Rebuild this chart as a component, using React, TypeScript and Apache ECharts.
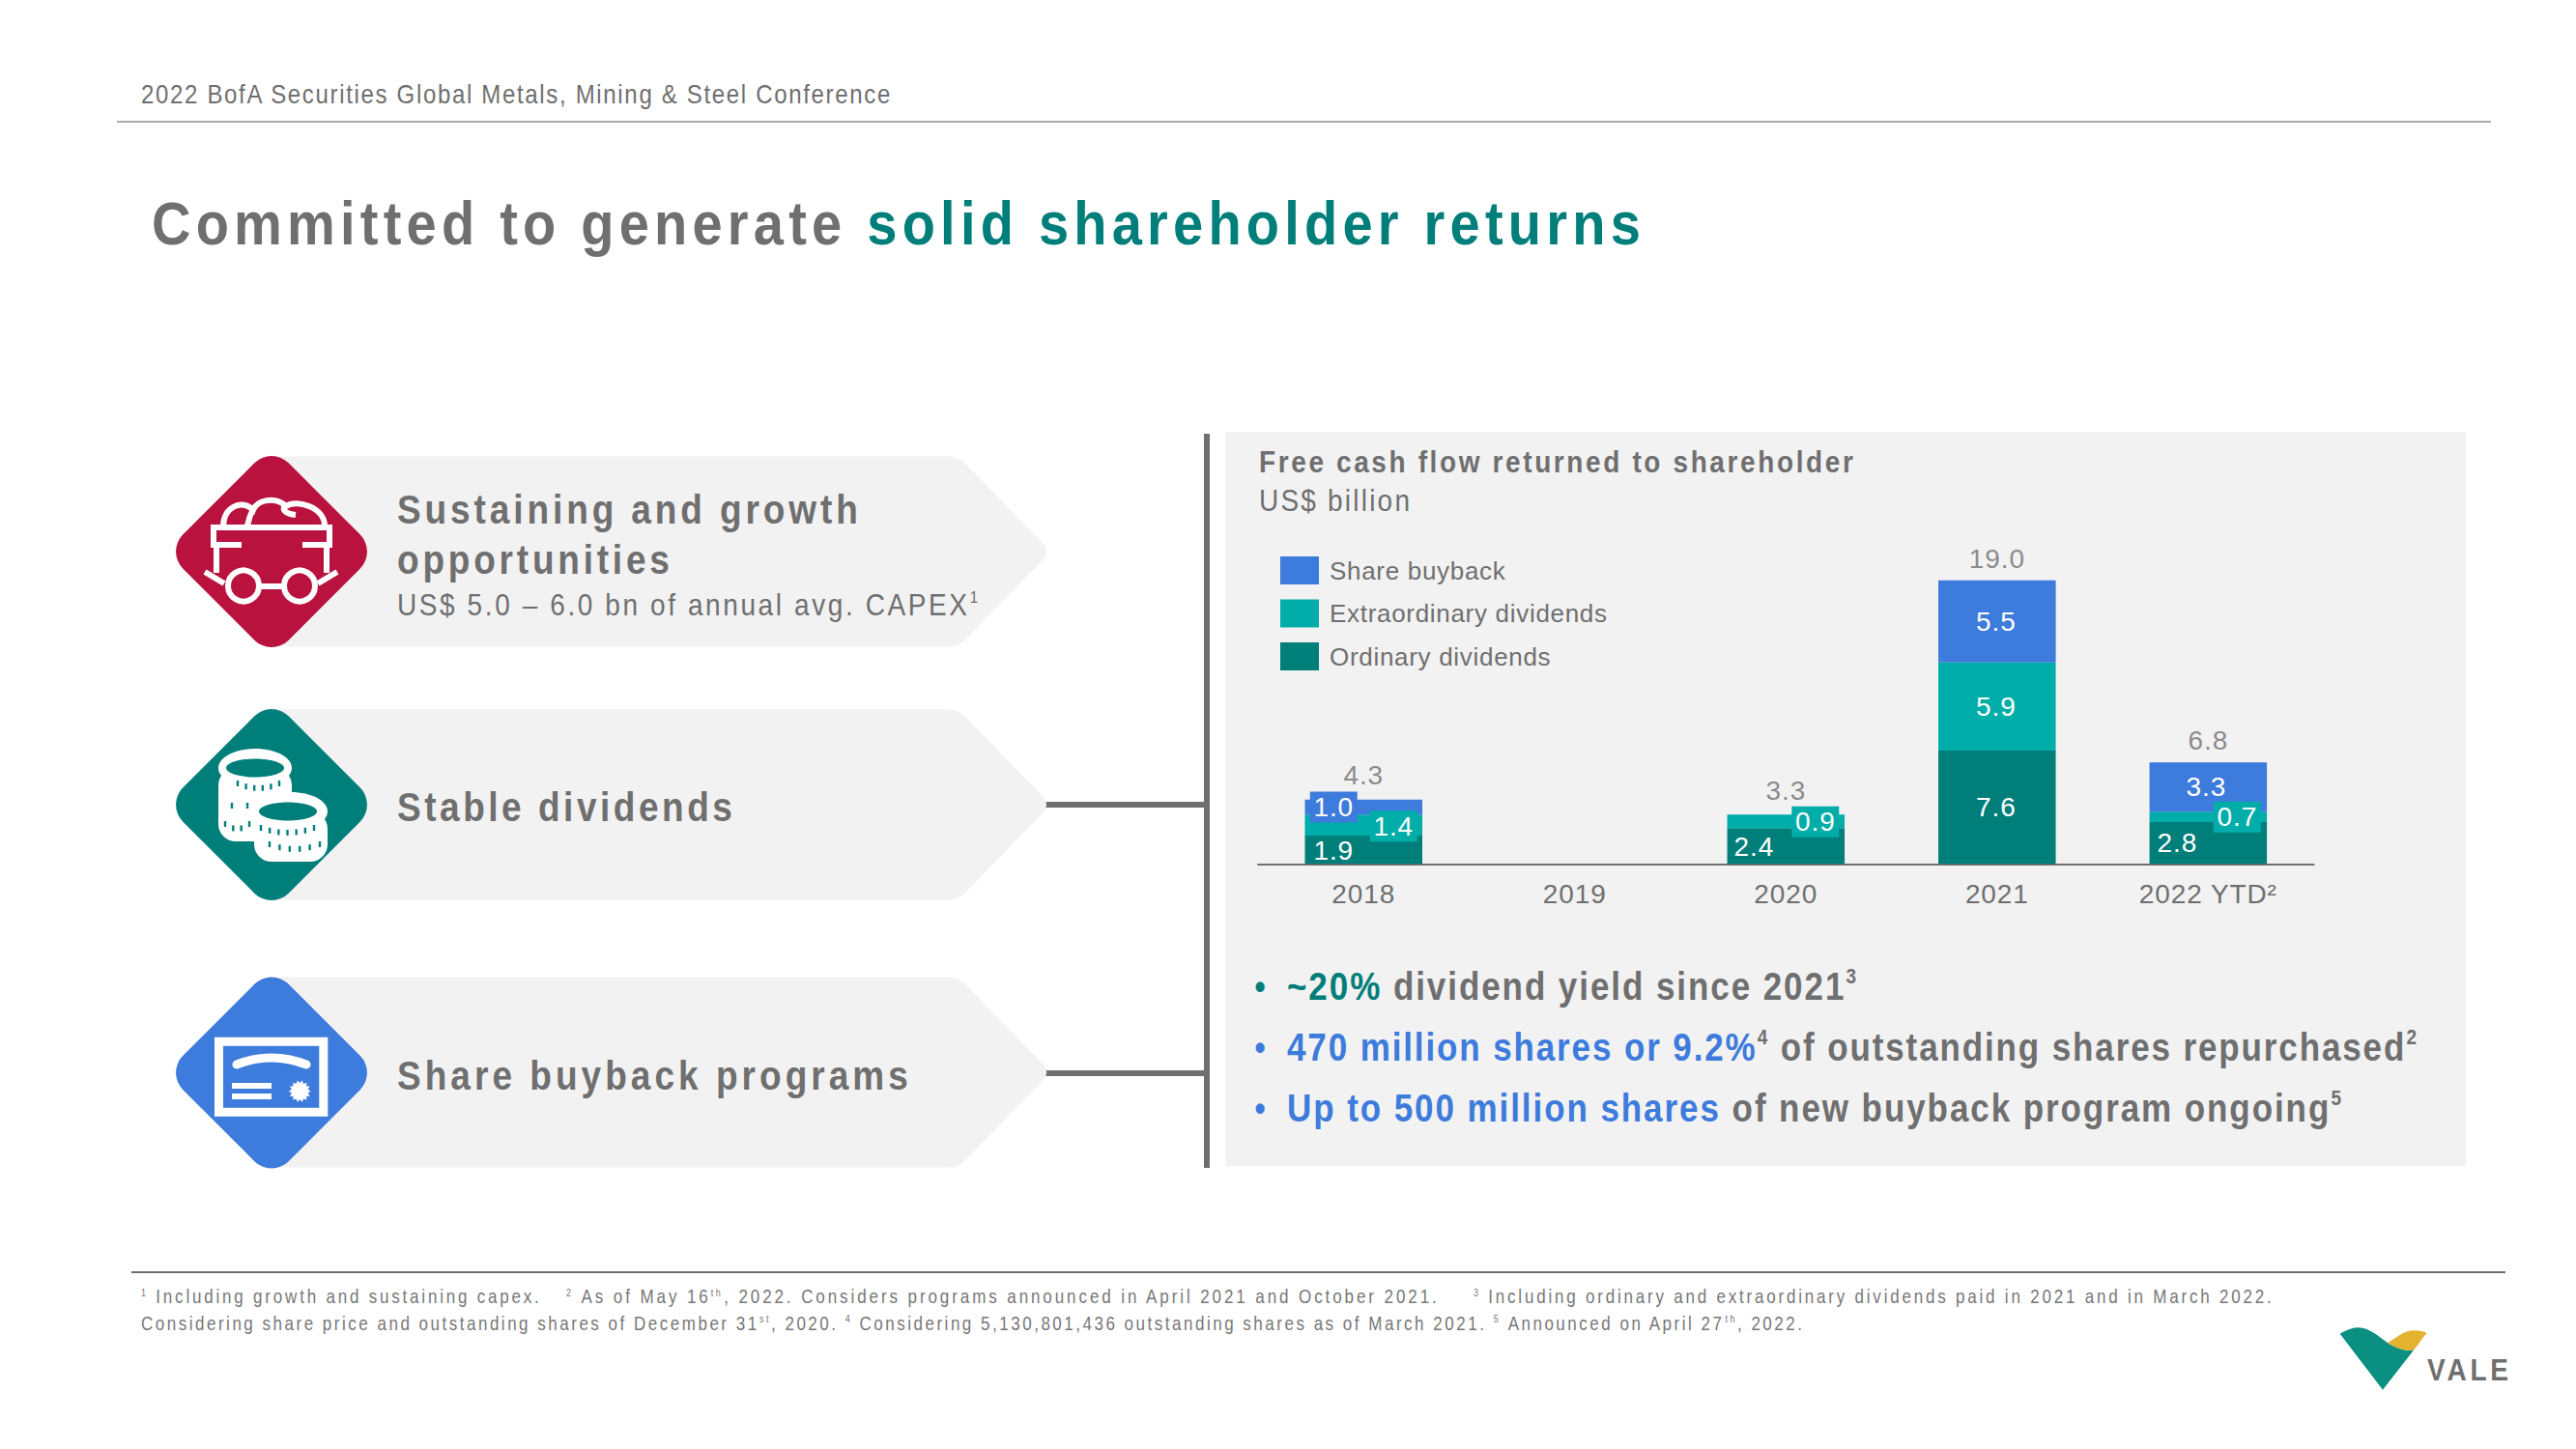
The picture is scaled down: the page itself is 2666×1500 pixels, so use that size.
import React, { useEffect, useRef } from "react";
import * as echarts from "echarts";

const categories = ["2018", "2019", "2020", "2021", "2022 YTD²"];
const ordinaryDividends = [1.9, null, 2.4, 7.6, 2.8];
const extraordinaryDividends = [1.4, null, 0.9, 5.9, 0.7];
const shareBuyback = [1.0, null, null, 5.5, 3.3];
const totals = [4.3, null, 3.3, 19.0, 6.8];
const legendNames = ["Share buyback", "Extraordinary dividends", "Ordinary dividends"];

const GREY = "#6f6f6f";
const TEAL = "#007e7a";
const AQUA = "#00ada8";
const BLUE = "#3d7bdc";
const RED = "#b9123f";
const PANEL = "#f2f2f2";
const FF = '"Liberation Sans"';
const TALL = 1.14;

// label placement per bar segment: [offsetX, offsetY, boxed]
const ordinaryLabels: any[] = [[-31, 1, false], null, [-33, 1, false], [-1, 0, false], [-32, 0, false]];
const extraLabels: any[] = [[31, 1, true], null, [30.5, 0.5, true], [-1, 0, false], [30, 0, true]];
const buybackLabels: any[] = [[-31, 0, true], null, null, [-1, 0, false], [-2, 0, false]];
const totalLabelLift = [3, 0, 3, 0, 1];

type Run = { t: string; c?: string; b?: boolean; sup?: boolean };

const spacing = new Map<string, number>();
const ctx = document.createElement("canvas").getContext("2d")!;
const fontOf = (size: number, bold?: boolean) => `${bold ? "bold " : ""}${size}px ${FF}`;
const measure = (t: string, size: number, bold?: boolean) => {
  ctx.font = fontOf(size, bold);
  return ctx.measureText(t).width;
};

function textEl(t: string, x: number, y: number, size: number, fill: string, bold?: boolean, align = "left") {
  return {
    type: "text",
    x,
    y,
    scaleY: TALL,
    silent: true,
    style: {
      text: t,
      font: fontOf(size, bold),
      fill,
      align,
      textAlign: align,
      verticalAlign: "middle",
      textVerticalAlign: "middle",
    },
  };
}

// lays out a run of differently styled pieces so that the line ends at endX
function line(x: number, endX: number, y: number, size: number, runs: Run[], defColor: string, defBold = false) {
  const rs = runs.map((r) => ({ ...r, sz: r.sup ? Math.round(size * 0.55) : size, bb: r.b ?? defBold }));
  let nat = 0;
  let n = 0;
  rs.forEach((r) => {
    nat += measure(r.t, r.sz, r.bb);
    n += r.t.length;
  });
  const sp = (endX - x - nat) / Math.max(1, n - 1);
  let cx = x;
  const out: any[] = [];
  rs.forEach((r) => {
    const trimmedStart = r.t.replace(/^\s+/, "");
    const lead = r.t.slice(0, r.t.length - trimmedStart.length);
    const leadW = lead ? measure(lead, r.sz, r.bb) + lead.length * sp : 0;
    const clean = trimmedStart.trimEnd();
    spacing.set(clean, sp);
    out.push(textEl(clean, cx + leadW, r.sup ? y - size * 0.3 : y, r.sz, r.c ?? defColor, r.bb));
    cx += measure(r.t, r.sz, r.bb) + r.t.length * sp;
  });
  return out;
}

const ARROW =
  "M281,-98.5 L982,-98.5 Q992,-98.5 999,-91 L1076,-12 Q1090,0 1076,12 L999,91 Q992,98.5 982,98.5 L281,98.5 Z";
const CART =
  "M250,564 H221 V546 H341 V564 H313 M224,564 V593 M338,564 V593 M212,592 L232,604 M349,592 L329,604 " +
  "M268,607 H294 M231,544 C232,525 250,516 262,528 C266,518 284,513 296,524 C308,516 336,526 336,544 " +
  "M262,528 C258,533 258,538 256,544 M296,524 C290,527 296,532 306,533";
const CERT_ARC = "M245,1102 Q281,1088 317,1102";
const LOGO_V =
  "M2421.7,1380.7 C2430,1376 2436,1374.3 2441,1374.3 C2452,1374.3 2462,1384 2471,1390 C2480,1396 2490,1399 2498.3,1397.3 L2466,1438.7 Z";
const LOGO_Y =
  "M2471,1390 C2478,1387 2486,1378 2497,1377.3 C2503,1377 2508,1378 2511.7,1380 C2506,1386 2503,1392 2498.3,1397.3 C2490,1399 2480,1396 2471,1390 Z";

function registerShapes() {
  const g: any = echarts.graphic;
  g.registerShape("vArrow", g.extendPath(ARROW, {}));
  g.registerShape("vCart", g.extendPath(CART, {}));
  g.registerShape("vCertArc", g.extendPath(CERT_ARC, {}));
  g.registerShape("vLogoV", g.extendPath(LOGO_V, {}));
  g.registerShape("vLogoY", g.extendPath(LOGO_Y, {}));
}

function diamond(cy: number, fill: string) {
  const s = 154.6;
  return {
    type: "rect",
    x: 281,
    y: cy,
    rotation: Math.PI / 4,
    silent: true,
    shape: { x: -s / 2, y: -s / 2, width: s, height: s, r: 25 },
    style: { fill },
  };
}

function coinIcon() {
  const w = "#ffffff";
  const els: any[] = [];
  const stack = (cx: number, top: number, bottom: number, inX: number) => {
    els.push({ type: "rect", silent: true, shape: { x: cx - 38, y: top, width: 76, height: bottom - top, r: 18 }, style: { fill: w } });
    els.push({ type: "ellipse", silent: true, shape: { cx, cy: top, rx: 38, ry: 20 }, style: { fill: w } });
    els.push({ type: "ellipse", silent: true, shape: { cx: inX, cy: top, rx: 30, ry: 9.5 }, style: { fill: TEAL } });
  };
  stack(264, 795, 871, 264);
  stack(301, 840, 892, 298);
  const rows = [
    [246, 289, 811, 6],
    [240, 256, 834, 2],
    [233, 258, 853, 4],
    [270, 325, 857, 7],
    [279, 331, 874, 6],
  ];
  rows.forEach(([x0, x1, y, c]) => {
    const mid = (x0 + x1) / 2;
    const half = Math.max(1, (x1 - x0) / 2);
    for (let i = 0; i < c; i++) {
      const x = x0 + ((x1 - x0) * i) / Math.max(1, c - 1);
      const t = (x - mid) / half;
      const ty = y + 5 * (1 - t * t);
      els.push({ type: "rect", silent: true, shape: { x: x - 1.2, y: ty - 3, width: 2.4, height: 6 }, style: { fill: TEAL } });
    }
  });
  return els;
}

function certIcon() {
  const w = "#ffffff";
  const star: number[][] = [];
  for (let i = 0; i < 28; i++) {
    const r = i % 2 ? 8.6 : 11.4;
    const a = (i * Math.PI) / 14;
    star.push([310.3 + r * Math.cos(a), 1129.7 + r * Math.sin(a)]);
  }
  return [
    { type: "rect", silent: true, shape: { x: 226.5, y: 1078.2, width: 108.3, height: 73 }, style: { fill: "none", stroke: w, lineWidth: 9 } },
    { type: "vCertArc", silent: true, style: { fill: "none", stroke: w, lineWidth: 9, lineCap: "round" } },
    { type: "rect", silent: true, shape: { x: 240, y: 1121, width: 41, height: 6 }, style: { fill: w } },
    { type: "rect", silent: true, shape: { x: 240, y: 1132, width: 41, height: 6 }, style: { fill: w } },
    { type: "polygon", silent: true, shape: { points: star }, style: { fill: w } },
  ];
}

function buildGraphic() {
  const els: any[] = [];
  const hline = (x1: number, x2: number, y: number, stroke: string, lw: number) => ({
    type: "line",
    silent: true,
    shape: { x1, y1: y, x2, y2: y },
    style: { stroke, lineWidth: lw },
  });
  els.push({ type: "rect", silent: true, z: -1, shape: { x: 1268.5, y: 447, width: 1283.5, height: 760 }, style: { fill: PANEL } });
  els.push({ type: "rect", silent: true, z: -1, shape: { x: 1246, y: 449, width: 6, height: 760 }, style: { fill: GREY } });
  els.push(hline(121, 2578, 126, "#8c8c8c", 1.5));
  els.push(hline(136, 2593, 1317, GREY, 2));
  els.push({ type: "rect", silent: true, shape: { x: 1082, y: 830, width: 165, height: 6 }, style: { fill: GREY } });
  els.push({ type: "rect", silent: true, shape: { x: 1082, y: 1108, width: 165, height: 6 }, style: { fill: GREY } });

  [571, 833, 1110].forEach((y) => els.push({ type: "vArrow", silent: true, x: 0, y, style: { fill: PANEL } }));
  els.push(diamond(571, RED), diamond(833, TEAL), diamond(1110.5, BLUE));

  const white = { fill: "none", stroke: "#ffffff", lineWidth: 6 };
  els.push({ type: "vCart", silent: true, style: white });
  els.push({ type: "circle", silent: true, shape: { cx: 252, cy: 606.5, r: 16 }, style: white });
  els.push({ type: "circle", silent: true, shape: { cx: 310, cy: 606.5, r: 16 }, style: white });
  els.push(...coinIcon(), ...certIcon());

  els.push(...line(146, 923, 97, 24, [{ t: "2022 BofA Securities Global Metals, Mining & Steel Conference" }], GREY));
  els.push(
    ...line(157, 1698, 231, 56, [{ t: "Committed to generate " }, { t: "solid shareholder returns", c: TEAL }], GREY, true)
  );
  els.push(...line(411, 888, 527, 37, [{ t: "Sustaining and growth" }], GREY, true));
  els.push(...line(411, 693, 579, 37, [{ t: "opportunities" }], GREY, true));
  els.push(
    ...line(411, 1012, 626, 28, [{ t: "US$ 5.0 – 6.0 bn of annual avg. CAPEX" }, { t: "1", sup: true }], GREY)
  );
  els.push(...line(411, 758, 835, 37, [{ t: "Stable dividends" }], GREY, true));
  els.push(...line(411, 940, 1113, 37, [{ t: "Share buyback programs" }], GREY, true));

  els.push(...line(1303, 1918, 478, 28, [{ t: "Free cash flow returned to shareholder" }], GREY, true));
  els.push(...line(1303, 1459, 518, 28, [{ t: "US$ billion" }], GREY));

  els.push(textEl("•", 1304, 1021, 32, TEAL, true, "center"));
  els.push(textEl("•", 1304, 1084, 32, BLUE, true, "center"));
  els.push(textEl("•", 1304, 1147, 32, BLUE, true, "center"));
  els.push(
    ...line(1332, 1921, 1021, 35, [{ t: "~20%", c: TEAL }, { t: " dividend yield since 2021" }, { t: "3", sup: true }], GREY, true)
  );
  els.push(
    ...line(
      1332,
      2501,
      1084,
      35,
      [{ t: "470 million shares or 9.2%", c: BLUE }, { t: "4", sup: true }, { t: " of outstanding shares repurchased" }, { t: "2", sup: true }],
      GREY,
      true
    )
  );
  els.push(
    ...line(
      1332,
      2423,
      1147,
      35,
      [{ t: "Up to 500 million shares", c: BLUE }, { t: " of new buyback program ongoing" }, { t: "5", sup: true }],
      GREY,
      true
    )
  );

  const FN = "#777777";
  els.push(...line(146, 558, 1343, 17, [{ t: "1", sup: true }, { t: " Including growth and sustaining capex." }], FN));
  els.push(
    ...line(
      586,
      1488,
      1343,
      17,
      [{ t: "2", sup: true }, { t: " As of May 16" }, { t: "th", sup: true }, { t: ", 2022. Considers programs announced in April 2021 and October 2021." }],
      FN
    )
  );
  els.push(
    ...line(1525, 2351, 1343, 17, [{ t: "3", sup: true }, { t: " Including ordinary and extraordinary dividends paid in 2021 and in March 2022." }], FN)
  );
  els.push(
    ...line(
      146,
      1865,
      1370.5,
      17,
      [
        { t: "Considering share price and outstanding shares of December 31" },
        { t: "st", sup: true },
        { t: ", 2020. " },
        { t: "4", sup: true },
        { t: " Considering 5,130,801,436 outstanding shares as of March 2021. " },
        { t: "5", sup: true },
        { t: " Announced on April 27" },
        { t: "th", sup: true },
        { t: ", 2022." },
      ],
      FN
    )
  );

  els.push({ type: "vLogoV", silent: true, style: { fill: "#0b8f80" } });
  els.push({ type: "vLogoY", silent: true, style: { fill: "#e3b32f" } });
  els.push(...line(2512, 2596, 1418, 28, [{ t: "VALE" }], GREY, true));
  return els;
}

const LEGEND_SIZE = 26;
const AXIS_SIZE = 28;

function segmentData(values: (number | null)[], placing: any[], fill: string) {
  return values.map((v, i) => {
    const p = placing[i];
    if (v == null || !p) return { value: v };
    return {
      value: v,
      label: {
        show: true,
        position: "inside",
        offset: [p[0], p[1]],
        color: "#ffffff",
        fontSize: AXIS_SIZE,
        fontFamily: FF,
        backgroundColor: p[2] ? fill : "transparent",
        padding: p[2] ? [2, 5] : 0,
        formatter: (x: any) => Number(x.value).toFixed(1),
      },
    };
  });
}

export default function App() {
  const ref = useRef<HTMLDivElement>(null);
  useEffect(() => {
    registerShapes();
    const chart = echarts.init(ref.current!, undefined, { renderer: "svg" });
    spacing.clear();
    const graphicEls = buildGraphic();

    const legendRef = "Extraordinary dividends";
    const legendSp = (1663 - 1376 - measure(legendRef, LEGEND_SIZE)) / (legendRef.length - 1);
    legendNames.forEach((n) => spacing.set(n, legendSp));

    const barBase = { type: "bar", stack: "fcf", barWidth: 121.5, silent: true };
    chart.setOption({
      animation: false,
      backgroundColor: "#ffffff",
      graphic: { elements: graphicEls },
      legend: {
        left: 1320,
        top: 571,
        orient: "vertical",
        icon: "rect",
        itemWidth: 40,
        itemHeight: 29,
        itemGap: 15.5,
        selectedMode: false,
        data: legendNames,
        textStyle: { color: GREY, fontSize: LEGEND_SIZE, fontFamily: FF, padding: [0, 0, 0, 6] },
      },
      grid: { left: 1302, top: 585.3, width: 1092.6, height: 309 },
      xAxis: {
        type: "category",
        data: categories,
        axisTick: { show: false },
        axisLine: { lineStyle: { color: GREY, width: 2 } },
        axisLabel: { color: GREY, fontSize: AXIS_SIZE, fontFamily: FF, margin: 17 },
      },
      yAxis: { type: "value", min: 0, max: 20, show: false, splitLine: { show: false } },
      series: [
        {
          ...barBase,
          name: "Ordinary dividends",
          itemStyle: { color: TEAL },
          data: segmentData(ordinaryDividends, ordinaryLabels, TEAL),
        },
        {
          ...barBase,
          name: "Extraordinary dividends",
          itemStyle: { color: AQUA },
          data: segmentData(extraordinaryDividends, extraLabels, AQUA),
        },
        {
          ...barBase,
          name: "Share buyback",
          itemStyle: { color: BLUE },
          data: segmentData(shareBuyback, buybackLabels, BLUE),
        },
        {
          type: "scatter",
          name: "Total",
          silent: true,
          symbolSize: 0,
          itemStyle: { color: "transparent" },
          data: totals.map((v, i) => ({ value: v, label: { distance: 8 + totalLabelLift[i] } })),
          label: {
            show: true,
            position: "top",
            color: GREY,
            fontSize: AXIS_SIZE,
            fontFamily: FF,
            formatter: (x: any) => Number(x.value).toFixed(1),
          },
        },
      ],
    });

    const applySpacing = () => {
      ref.current?.querySelectorAll("text").forEach((el: any) => {
        const key = (el.textContent || "").trim();
        const sp = spacing.get(key);
        if (sp != null) el.style.letterSpacing = `${sp}px`;
        else if (el.style.fontSize === `${AXIS_SIZE}px` || /^[\d.]+$/.test(key) || key.startsWith("2022 YTD"))
          el.style.letterSpacing = "0.9px";
      });
    };
    applySpacing();
    chart.on("rendered", applySpacing);
    const raf = requestAnimationFrame(applySpacing);
    return () => {
      cancelAnimationFrame(raf);
      chart.dispose();
    };
  }, []);
  return <div ref={ref} style={{ position: "absolute", left: 0, top: 0, width: 2666, height: 1500 }} />;
}
